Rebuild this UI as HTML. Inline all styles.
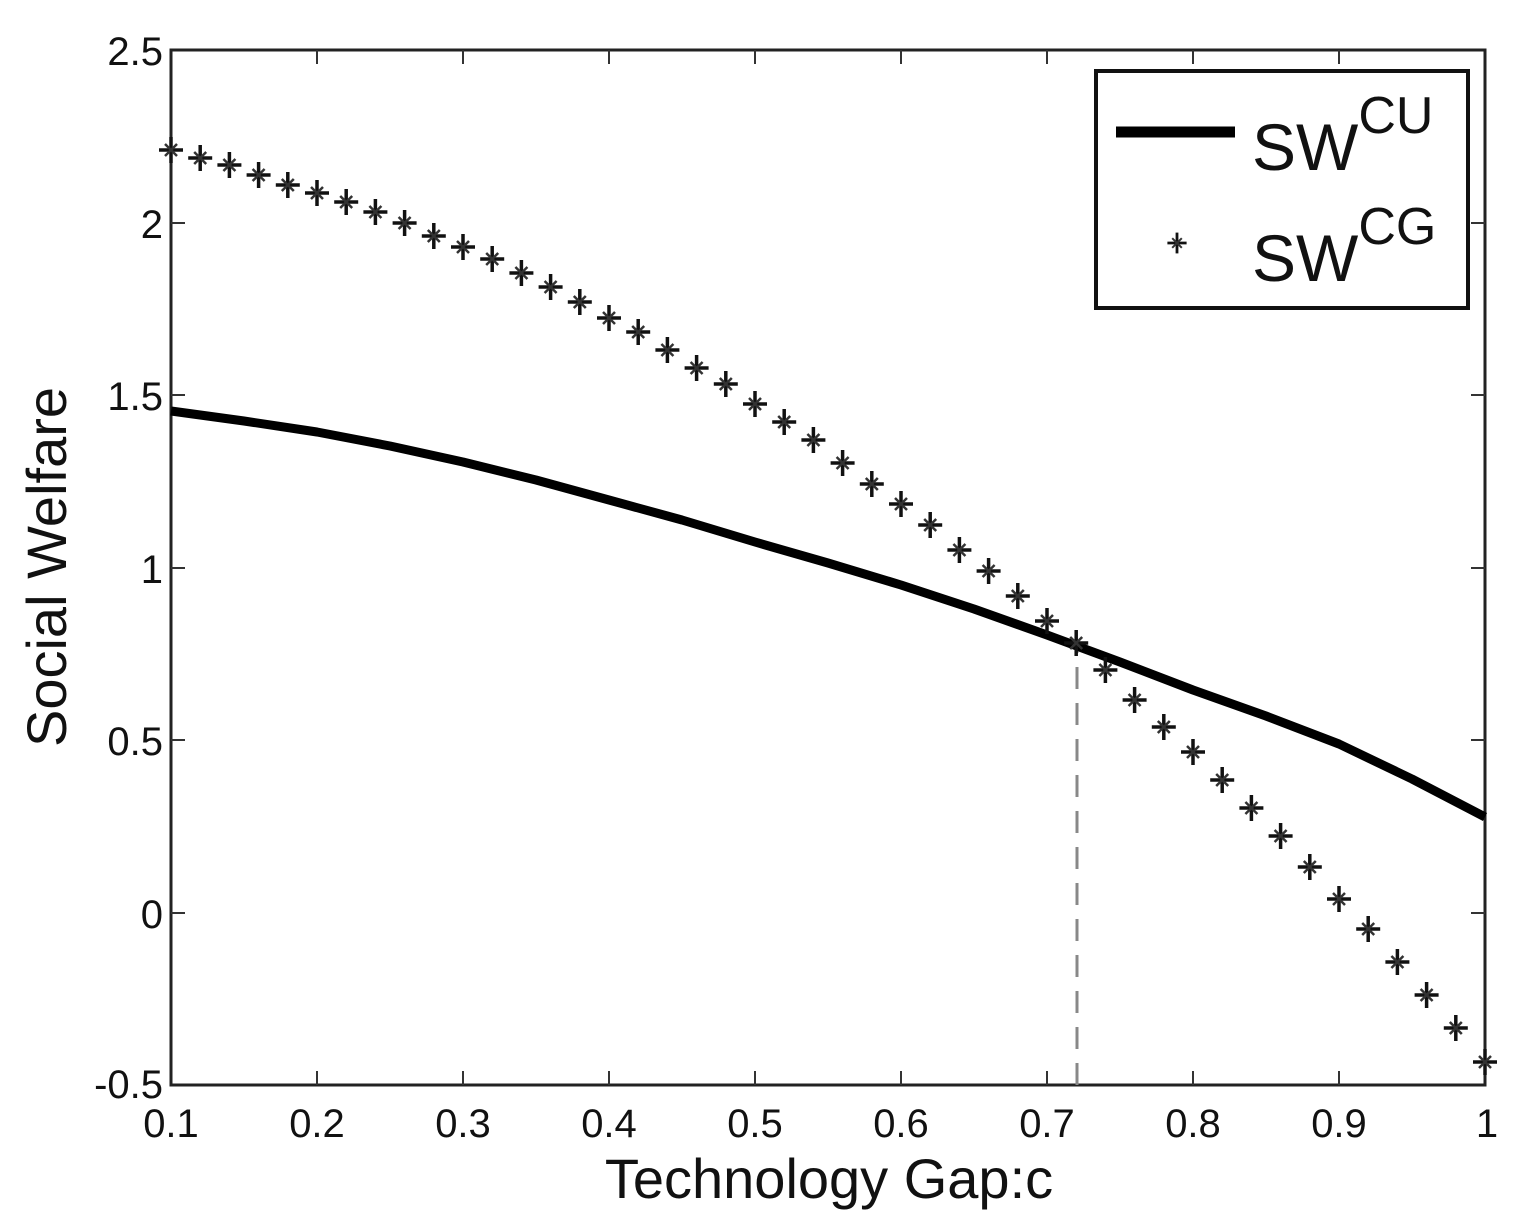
<!DOCTYPE html>
<html><head><meta charset="utf-8"><style>
html,body{margin:0;padding:0;background:#fff;}
svg{display:block;}
text{font-family:"Liberation Sans",Arial,sans-serif;fill:#111;}
</style></head><body>
<svg width="1524" height="1211" viewBox="0 0 1524 1211" xmlns="http://www.w3.org/2000/svg">
<defs>
<g id="st">
<line x1="-12" y1="0" x2="12" y2="0" stroke="#111" stroke-width="3.5"/>
<line x1="0" y1="-13" x2="0" y2="13" stroke="#111" stroke-width="3.5"/>
<line x1="-6" y1="-6" x2="6" y2="6" stroke="#333" stroke-width="2.5"/>
<line x1="-6" y1="6" x2="6" y2="-6" stroke="#333" stroke-width="2.5"/>
</g>
</defs>
<rect x="0" y="0" width="1524" height="1211" fill="#fff"/>
<rect x="171" y="50" width="1314" height="1035" fill="none" stroke="#222" stroke-width="3"/>
<g stroke="#333" stroke-width="2">
<line x1="317" y1="1085" x2="317" y2="1071"/><line x1="463" y1="1085" x2="463" y2="1071"/><line x1="609" y1="1085" x2="609" y2="1071"/><line x1="755" y1="1085" x2="755" y2="1071"/><line x1="901" y1="1085" x2="901" y2="1071"/><line x1="1047" y1="1085" x2="1047" y2="1071"/><line x1="1193" y1="1085" x2="1193" y2="1071"/><line x1="1339" y1="1085" x2="1339" y2="1071"/>
<line x1="317" y1="50" x2="317" y2="64"/><line x1="463" y1="50" x2="463" y2="64"/><line x1="609" y1="50" x2="609" y2="64"/><line x1="755" y1="50" x2="755" y2="64"/><line x1="901" y1="50" x2="901" y2="64"/><line x1="1047" y1="50" x2="1047" y2="64"/><line x1="1193" y1="50" x2="1193" y2="64"/><line x1="1339" y1="50" x2="1339" y2="64"/>
<line x1="171" y1="223" x2="185" y2="223"/><line x1="171" y1="395" x2="185" y2="395"/><line x1="171" y1="568" x2="185" y2="568"/><line x1="171" y1="740" x2="185" y2="740"/><line x1="171" y1="913" x2="185" y2="913"/>
<line x1="1485" y1="223" x2="1471" y2="223"/><line x1="1485" y1="395" x2="1471" y2="395"/><line x1="1485" y1="568" x2="1471" y2="568"/><line x1="1485" y1="740" x2="1471" y2="740"/><line x1="1485" y1="913" x2="1471" y2="913"/>
</g>
<g font-size="40" text-anchor="end">
<text x="163" y="65">2.5</text>
<text x="163" y="238">2</text>
<text x="163" y="410">1.5</text>
<text x="163" y="583">1</text>
<text x="163" y="755">0.5</text>
<text x="163" y="928">0</text>
<text x="163" y="1098">-0.5</text>
</g>
<g font-size="40" text-anchor="middle">
<text x="171" y="1137">0.1</text><text x="317" y="1137">0.2</text><text x="463" y="1137">0.3</text><text x="609" y="1137">0.4</text><text x="755" y="1137">0.5</text><text x="901" y="1137">0.6</text><text x="1047" y="1137">0.7</text><text x="1193" y="1137">0.8</text><text x="1339" y="1137">0.9</text><text x="1487" y="1137">1</text>
</g>
<text x="829" y="1198" font-size="56" text-anchor="middle">Technology Gap:c</text>
<text transform="translate(66,567) rotate(-90)" font-size="56" text-anchor="middle">Social Welfare</text>
<line x1="1077" y1="1085" x2="1077" y2="640" stroke="#888" stroke-width="3" stroke-dasharray="22,14"/>
<polyline fill="none" stroke="#000" stroke-width="9" stroke-linejoin="round" points="171,411 244,421 317,432 390,446 463,462 536,480 609,500 682,520 755,542 828,563 901,585 974,609 1047,635 1120,662 1193,690 1266,716 1339,744 1412,779 1485,817"/>
<use href="#st" x="171" y="150"/><use href="#st" x="200.2" y="158"/><use href="#st" x="229.4" y="165"/><use href="#st" x="258.6" y="175"/><use href="#st" x="287.8" y="185"/><use href="#st" x="317" y="193"/><use href="#st" x="346.2" y="202"/><use href="#st" x="375.4" y="212"/><use href="#st" x="404.6" y="223"/><use href="#st" x="433.8" y="236"/><use href="#st" x="463" y="247"/><use href="#st" x="492.2" y="259"/><use href="#st" x="521.4" y="273"/><use href="#st" x="550.6" y="287"/><use href="#st" x="579.8" y="302"/><use href="#st" x="609" y="318"/><use href="#st" x="638.2" y="332"/><use href="#st" x="667.4" y="350"/><use href="#st" x="696.6" y="368"/><use href="#st" x="725.8" y="384"/><use href="#st" x="755" y="404"/><use href="#st" x="784.2" y="422"/><use href="#st" x="813.4" y="440"/><use href="#st" x="842.6" y="463"/><use href="#st" x="871.8" y="484"/><use href="#st" x="901" y="504"/><use href="#st" x="930.2" y="525"/><use href="#st" x="959.4" y="550"/><use href="#st" x="988.6" y="571"/><use href="#st" x="1017.8" y="596"/><use href="#st" x="1047" y="621"/><use href="#st" x="1076.2" y="643"/><use href="#st" x="1105.4" y="670"/><use href="#st" x="1134.6" y="700"/><use href="#st" x="1163.8" y="727"/><use href="#st" x="1193" y="752"/><use href="#st" x="1222.2" y="780"/><use href="#st" x="1251.4" y="808"/><use href="#st" x="1280.6" y="836"/><use href="#st" x="1309.8" y="867"/><use href="#st" x="1339" y="899"/><use href="#st" x="1368.2" y="929"/><use href="#st" x="1397.4" y="962"/><use href="#st" x="1426.6" y="995"/><use href="#st" x="1455.8" y="1028"/><use href="#st" x="1485" y="1062"/>
<rect x="1096" y="71" width="372" height="237" fill="#fff" stroke="#111" stroke-width="4"/>
<line x1="1116" y1="132" x2="1235" y2="132" stroke="#000" stroke-width="11"/>
<use href="#st" x="1177" y="243" transform="translate(1177,243) scale(0.8) translate(-1177,-243)"/>
<text x="1252" y="170" font-size="66">SW<tspan font-size="52" dy="-37">CU</tspan></text>
<text x="1252" y="281" font-size="66">SW<tspan font-size="52" dy="-37">CG</tspan></text>
</svg>
</body></html>
